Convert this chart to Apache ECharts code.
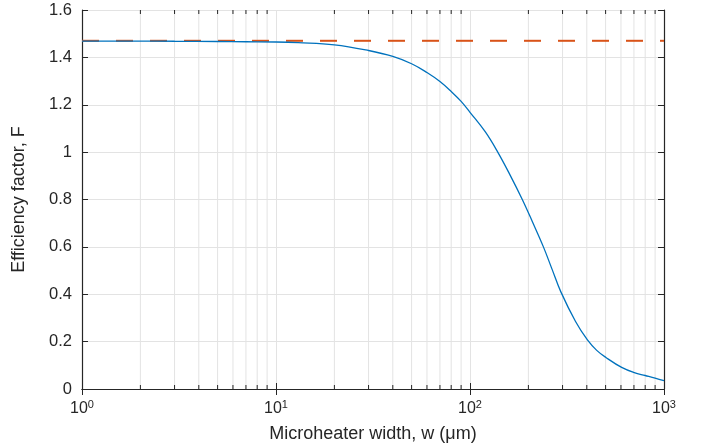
<!DOCTYPE html>
<html>
<head>
<meta charset="utf-8">
<script src="https://cdn.jsdelivr.net/npm/echarts@6/dist/echarts.min.js"></script>
<style>
  html, body { margin: 0; padding: 0; background: #fff; }
  #chart { width: 706px; height: 448px; }
</style>
</head>
<body>
<div id="chart"></div>
<script>
// microheater width (um) and efficiency factor
const widths = [1, 2, 3, 5, 7, 10, 13, 20, 30, 40, 50, 60, 70, 80, 90, 100, 120, 139, 160, 186, 210, 239, 265, 294, 350, 403, 450, 502, 605, 703, 800, 900, 1000]
const efficiency = [1.469, 1.469, 1.468, 1.467, 1.466, 1.465, 1.462, 1.453, 1.429, 1.404, 1.373, 1.336, 1.298, 1.256, 1.214, 1.168, 1.085, 1.0, 0.907, 0.8, 0.705, 0.6, 0.505, 0.41, 0.285, 0.207, 0.163, 0.133, 0.091, 0.069, 0.057, 0.046, 0.035]
const limitX = [1, 1000]
const limitF = [1.47, 1.47]
// minor log grid positions
const minorX = [2, 3, 4, 5, 6, 7, 8, 9, 20, 30, 40, 50, 60, 70, 80, 90, 200, 300, 400, 500, 600, 700, 800, 900]

const chart = echarts.init(document.getElementById('chart'))
const font = 'Liberation Sans'
const axisColor = '#262626'
const gridColor = '#e3e3e3'

const supLabel = function (value) {
  const e = Math.round(Math.log10(value))
  return '{b|10}{s|' + e + '}'
}

chart.setOption({
  animation: false,
  textStyle: { fontFamily: font },
  grid: { left: 82, right: 42, top: 10, bottom: 58 },
  xAxis: [
    {
      type: 'log',
      logBase: 10,
      min: 1,
      max: 1000,
      name: 'Microheater width, w (μm)',
      nameLocation: 'middle',
      nameGap: 36,
      nameTextStyle: { fontSize: 18, color: axisColor, fontFamily: font },
      axisLine: { lineStyle: { color: axisColor, width: 1.2 } },
      axisTick: { inside: true, length: 6, lineStyle: { color: axisColor } },
      axisLabel: {
        margin: 10,
        color: axisColor,
        formatter: supLabel,
        rich: {
          b: { fontSize: 16, fontFamily: font, color: axisColor },
          s: { fontSize: 11, fontFamily: font, color: axisColor, padding: [0, 0, 9, 0] }
        }
      },
      splitLine: { show: true, lineStyle: { color: gridColor, width: 1 } }
    },
    {
      type: 'log',
      logBase: 10,
      min: 1,
      max: 1000,
      position: 'top',
      axisLine: { lineStyle: { color: axisColor, width: 1.2 } },
      axisTick: { inside: true, length: 6, lineStyle: { color: axisColor } },
      axisLabel: { show: false },
      splitLine: { show: false }
    }
  ],
  yAxis: [
    {
      type: 'value',
      min: 0,
      max: 1.6,
      interval: 0.2,
      name: 'Efficiency factor, F',
      nameLocation: 'middle',
      nameGap: 54,
      nameTextStyle: { fontSize: 18, color: axisColor, fontFamily: font },
      axisLine: { show: true, lineStyle: { color: axisColor, width: 1.2 } },
      axisTick: { show: true, inside: true, length: 6, lineStyle: { color: axisColor } },
      axisLabel: { fontSize: 16.5, color: axisColor, margin: 10 },
      splitLine: { show: true, lineStyle: { color: gridColor, width: 1 } }
    },
    {
      type: 'value',
      min: 0,
      max: 1.6,
      interval: 0.2,
      position: 'right',
      axisLine: { show: true, lineStyle: { color: axisColor, width: 1.2 } },
      axisTick: { show: true, inside: true, length: 6, lineStyle: { color: axisColor } },
      axisLabel: { show: false },
      splitLine: { show: false }
    }
  ],
  series: [
    {
      type: 'custom',
      z: 1,
      silent: true,
      data: minorX.map(v => [v, 0]),
      renderItem: function (params, api) {
        const cs = params.coordSys
        const px = api.coord([api.value(0), 0])[0]
        const top = cs.y
        const bottom = cs.y + cs.height
        return {
          type: 'group',
          children: [
            { type: 'line', shape: { x1: px, y1: top, x2: px, y2: bottom }, style: { stroke: gridColor, lineWidth: 1 } },
            { type: 'line', shape: { x1: px, y1: bottom, x2: px, y2: bottom - 4 }, style: { stroke: axisColor, lineWidth: 1 } },
            { type: 'line', shape: { x1: px, y1: top, x2: px, y2: top + 4 }, style: { stroke: axisColor, lineWidth: 1 } }
          ]
        }
      }
    },
    {
      type: 'line',
      z: 3,
      data: limitX.map((x, i) => [x, limitF[i]]),
      symbol: 'none',
      lineStyle: { color: '#D95319', width: 2, type: [17, 17] }
    },
    {
      type: 'line',
      z: 4,
      data: widths.map((w, i) => [w, efficiency[i]]),
      symbol: 'none',
      smooth: 0.4,
      lineStyle: { color: '#0072BD', width: 1.3 }
    }
  ]
})
</script>
</body>
</html>
